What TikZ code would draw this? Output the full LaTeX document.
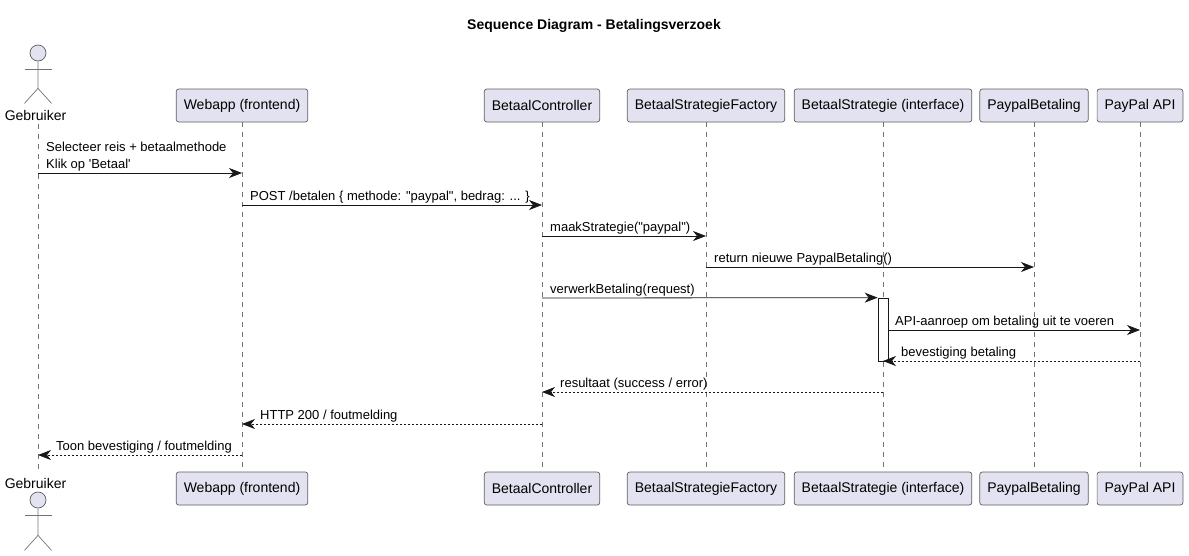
\documentclass[tikz,border=0pt]{standalone}
\usepackage{fontspec}
\setmainfont{Liberation Sans}[Ligatures=TeXOff]
\usetikzlibrary{arrows.meta, positioning, calc}
\definecolor{seqFill}{HTML}{E2E2F0}
\definecolor{seqLine}{HTML}{181818}
\begin{document}
\begin{tikzpicture}[
  x=1pt, y=-1pt,
  font=\fontsize{13}{15}\selectfont,
  part/.style={draw=seqLine!70, fill=seqFill, rounded corners=2.5pt, line width=0.7pt,
               minimum height=33pt, inner xsep=7.5pt, inner ysep=0pt, font=\fontsize{14}{16}\selectfont},
  head/.style={draw=seqLine!70, fill=seqFill, circle, line width=0.7pt, minimum size=16pt, inner sep=0pt},
  limb/.style={draw=seqLine!60, line width=0.7pt},
  actorname/.style={minimum height=18pt, inner sep=0pt, font=\fontsize{14}{16}\selectfont},
  lifeline/.style={draw=seqLine!60, line width=0.7pt, dash pattern=on 5pt off 5pt},
  msg/.style={-{Stealth[length=13pt, width=10pt, inset=4pt]}, draw=seqLine, line width=0.8pt},
  reply/.style={msg, dash pattern=on 2pt off 2pt},
  msgtext/.style={anchor=base west, inner sep=0pt},
]
\useasboundingbox (0,0) rectangle (1189,555);
\node[font=\fontsize{14}{16}\selectfont\bfseries, inner sep=0pt] (title) at (594,26) {Sequence Diagram - Betalingsverzoek};

% top row
\node[head] (userhead) at (38,53) {};
\node[actorname] (usertop) at (35.5,115) {Gebruiker};
\draw[limb] (userhead.south) -- ++(0,27) coordinate (userhip) -- ++(-13.5,15);
\draw[limb] (userhip) -- ++(13.5,15);
\draw[limb] ($(userhead.south)+(-13.5,8)$) -- ++(27,0);
\foreach \n/\x/\t in {web/242/Webapp (frontend), ctrl/542/BetaalController, fact/706/BetaalStrategieFactory,
                      strat/883/BetaalStrategie (interface), pay/1034/PaypalBetaling, api/1140/PayPal API} {
  \node[part] (\n top) at (\x,105.5) {\t};
  \node[part] (\n bot) at (\x,488.5) {\t};
}

% bottom row
\node[actorname] (userbot) at (35.5,483) {Gebruiker};
\node[head] (userfoot) at (38,500) {};
\draw[limb] (userfoot.south) -- ++(0,27) coordinate (userhip2) -- ++(-13.5,15);
\draw[limb] (userhip2) -- ++(13.5,15);
\draw[limb] ($(userfoot.south)+(-13.5,7)$) -- ++(27,0);

% lifelines
\draw[lifeline] (usertop.south -| userhead) -- (userbot.north -| userhead);
\foreach \n in {web, ctrl, fact, strat, pay, api}
  \draw[lifeline] (\n top) -- (\n bot);

% message rows
\foreach \n/\o in {user/userhead, web/webtop, ctrl/ctrltop, fact/facttop, strat/strattop, pay/paytop, api/apitop}
  \foreach \r/\y in {1/173, 2/205, 3/236, 4/267, 5/298, 6/330, 7/361, 8/392, 9/424, 10/455}
    \coordinate (\n\r) at (\o |- 0,\y);

\node[draw=seqLine, fill=white, line width=0.7pt, minimum width=10pt, inner sep=0pt,
      minimum height=63pt] (act) at ($(strat5)!0.5!(strat7)$) {};

\foreach \a/\b/\r/\t in {user/web/1/Klik op 'Betaal', web/ctrl/2/{POST /betalen \{ methode: "paypal", bedrag: ... \}},
                         ctrl/fact/3/{maakStrategie("paypal")}, fact/pay/4/{return nieuwe PaypalBetaling()}} {
  \draw[msg] (\a\r) -- (\b\r);
  \node[msgtext] (label\r) at ($(\a\r)+(8,-5)$) {\t};
}
\node[msgtext] (label0) at ($(user1)+(8,-22)$) {Selecteer reis + betaalmethode};

\draw[msg] (ctrl5) -- (act.north west);
\node[msgtext] (label5) at ($(ctrl5)+(8,-5)$) {verwerkBetaling(request)};
\draw[msg] (act.east |- strat6) -- (api6);
\node[msgtext] (label6) at ($(strat6)+(12,-5)$) {API-aanroep om betaling uit te voeren};
\draw[reply] (api7) -- (strat7);
\node[msgtext] (label7) at ($(strat7)+(18,-5)$) {bevestiging betaling};

\foreach \a/\b/\r/\t in {strat/ctrl/8/{resultaat (success / error)}, ctrl/web/9/{HTTP 200 / foutmelding},
                         web/user/10/{Toon bevestiging / foutmelding}} {
  \draw[reply] (\a\r) -- (\b\r);
  \node[msgtext] (label\r) at ($(\b\r)+(18,-5)$) {\t};
}
\end{tikzpicture}
\end{document}
